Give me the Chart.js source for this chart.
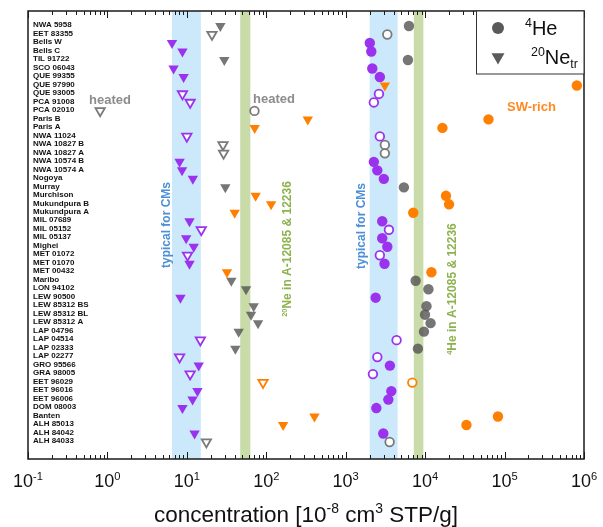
<!DOCTYPE html>
<html><head><meta charset="utf-8">
<script src="https://cdn.jsdelivr.net/npm/chart.js@4/dist/chart.umd.min.js"></script>
<style>html,body{margin:0;padding:0;background:#fff}#wrap{width:603px;height:527px}</style>
</head><body><div id="wrap"><canvas id="c" width="603" height="527"></canvas></div>
<script>
// ---------- data ----------
const samples = ['NWA 5958','EET 83355','Bells W','Bells C','TIL 91722','SCO 06043','QUE 99355','QUE 97990','QUE 93005','PCA 91008','PCA 02010','Paris B','Paris A','NWA 11024','NWA 10827 B','NWA 10827 A','NWA 10574 B','NWA 10574 A','Nogoya','Murray','Murchison','Mukundpura B','Mukundpura A','MIL 07689','MIL 05152','MIL 05137','Mighei','MET 01072','MET 01070','MET 00432','Maribo','LON 94102','LEW 90500','LEW 85312 BS','LEW 85312 BL','LEW 85312 A','LAP 04796','LAP 04514','LAP 02333','LAP 02277','GRO 95566','GRA 98005','EET 96029','EET 96016','EET 96006','DOM 08003','Banten','ALH 85013','ALH 84042','ALH 84033'];
const he4 = [6250,3340,2010,2100,6070,2160,2690,813000,2620,2260,71,62700,16500,2690,3110,3110,2260,2500,3020,5400,18300,20000,7080,2880,3500,2880,3340,2690,3080,12000,7590,11000,2380,10400,9960,11700,9660,4370,8110,2500,3600,2200,6890,3750,3440,2430,82600,33100,2970,3570];
const ne20 = [26.4,20.7,6.5,8.8,29.6,6.8,9.1,3110,8.8,11.0,0.81,333,71.4,10.0,28.5,29.0,8.1,8.7,11.9,30.5,73.5,115,40,10.8,15.2,9.8,12.2,10.2,10.8,32,36.3,55.6,8.3,69.4,64.3,78.8,44.9,14.8,40.8,8.1,14.1,11.0,91,13.6,11.8,8.8,404,163,12.5,17.6];
// sample group: cm = typical CM, heat = heated, sw = solar-wind rich; "-o" = open symbol
const group = ['heat','heat-o','cm','cm','heat','cm','cm','sw','cm-o','cm-o','heat-o','sw','sw','cm-o','heat-o','heat-o','cm','cm','cm','heat','sw','sw','sw','cm','cm-o','cm','cm','cm-o','cm','sw','heat','heat','cm','heat','heat','heat','heat','cm-o','heat','cm-o','cm','cm-o','sw-o','cm','cm','cm','sw','sw','cm','heat-o'];
// reference ranges
const cmNeRange = [6.5, 15];
const refNeRange = [47, 63];
const cmHeRange = [2000, 4500];
const refHeRange = [7200, 9500];
const xExponents = [-1,0,1,2,3,4,5,6];

// ---------- styles ----------
const colors = {cm:'#9a32ee', heat:'rgba(80,80,80,0.78)', sw:'#ff8000'};
const openColors = {cm:'#9a32ee', heat:'#7a7a7a', sw:'#ff8000'};
const FONT = '"Liberation Sans", Arial, Helvetica, sans-serif';

function makeDatasets(vals, isNe) {
  const codes = ['cm','cm-o','heat','heat-o','sw','sw-o'];
  return codes.map(code => {
    const base = code.replace('-o','');
    const open = code.endsWith('-o');
    const idx = group.map((g,i)=>g===code?i:-1).filter(i=>i>=0);
    return {
      label: (isNe?'Ne ':'He ')+code,
      data: idx.map(i=>({x: vals[i], y: i})),
      pointStyle: isNe ? 'triangle' : 'circle',
      pointRotation: isNe ? 180 : 0,
      pointRadius: isNe ? (open?5.4:6) : (open?4.3:5.2),
      pointBackgroundColor: open ? '#ffffff' : colors[base],
      pointBorderColor: open ? openColors[base] : colors[base],
      pointBorderWidth: open ? 1.8 : 0,
      showLine: false,
      clip: false
    };
  });
}

function partsWidth(ctx, parts, size, weight) {
  let w = 0;
  for (const [t, m] of parts) {
    const s = m ? size*0.62 : size;
    ctx.font = `${weight} ${s}px ${FONT}`;
    w += ctx.measureText(t).width;
  }
  return w;
}
function drawParts(ctx, parts, x, y, size, weight) {
  let cx = x;
  for (const [t, m] of parts) {
    const s = m ? size*0.62 : size;
    ctx.font = `${weight} ${s}px ${FONT}`;
    let dy = 0;
    if (m === 'sup') dy = -size*0.38;
    if (m === 'sub') dy = size*0.22;
    ctx.fillText(t, cx, y + dy);
    cx += ctx.measureText(t).width;
  }
}
function drawVertical(ctx, parts, cx, cy, size, weight, color) {
  ctx.save();
  ctx.translate(cx, cy);
  ctx.rotate(-Math.PI/2);
  ctx.fillStyle = color;
  ctx.textBaseline = 'alphabetic';
  ctx.textAlign = 'left';
  const w = partsWidth(ctx, parts, size, weight);
  drawParts(ctx, parts, -w/2, size*0.36, size, weight);
  ctx.restore();
}

const decor = {
  id: 'decor',
  beforeDatasetsDraw(chart) {
    const {ctx, chartArea: a, scales: {x}} = chart;
    ctx.save();
    const band = (r, col) => {
      const x0 = x.getPixelForValue(r[0]), x1 = x.getPixelForValue(r[1]);
      ctx.fillStyle = col;
      ctx.fillRect(x0, a.top, x1-x0, a.bottom-a.top);
    };
    band(cmNeRange, '#cce9fb');
    band(cmHeRange, '#cce9fb');
    band(refNeRange, '#c8dba8');
    band(refHeRange, '#c8dba8');
    const blue = '#4c8fd6', green = '#8db24e';
    drawVertical(ctx, [['typical for CMs','']], 166, 225, 12, 'bold', blue);
    drawVertical(ctx, [['typical for CMs','']], 361, 226, 12, 'bold', blue);
    drawVertical(ctx, [['20','sup'],['Ne in A-12085 & 12236','']], 287, 249, 12, 'bold', green);
    drawVertical(ctx, [['4','sup'],['He in A-12085 & 12236','']], 452, 289, 12, 'bold', green);
    ctx.restore();
  },
  afterDatasetsDraw(chart) {
    const {ctx, chartArea: a, scales: {x}} = chart;
    ctx.save();
    // frame
    ctx.strokeStyle = '#1a1a1a';
    ctx.lineWidth = 1.5;
    ctx.strokeRect(a.left, a.top, a.right-a.left, a.bottom-a.top);
    // ticks (inward, top and bottom)
    ctx.lineWidth = 1;
    ctx.beginPath();
    for (let e = xExponents[0]; e <= xExponents[xExponents.length-1]; e++) {
      for (let m = 1; m <= 9; m++) {
        if (e === xExponents[xExponents.length-1] && m > 1) break;
        const v = m*Math.pow(10, e);
        const px = Math.round(x.getPixelForValue(v)) + 0.5;
        const len = m === 1 ? 7 : 4;
        ctx.moveTo(px, a.bottom); ctx.lineTo(px, a.bottom-len);
        ctx.moveTo(px, a.top); ctx.lineTo(px, a.top+len);
      }
    }
    ctx.stroke();
    // tick labels
    ctx.fillStyle = '#111';
    ctx.textBaseline = 'alphabetic';
    ctx.textAlign = 'left';
    for (const e of xExponents) {
      const px = x.getPixelForValue(Math.pow(10, e));
      const parts = [['10',''],[String(e),'sup']];
      const w = partsWidth(ctx, parts, 18, 'normal');
      drawParts(ctx, parts, px - w/2, 487, 18, 'normal');
    }
    // axis title
    const tparts = [['concentration [10',''],['-8','sup'],[' cm',''],['3','sup'],[' STP/g]','']];
    const tw = partsWidth(ctx, tparts, 22.5, 'normal');
    drawParts(ctx, tparts, (a.left+a.right)/2 - tw/2, 522, 22.5, 'normal');
    // annotations
    ctx.font = `bold 13px ${FONT}`;
    ctx.textBaseline = 'middle';
    ctx.fillStyle = '#8c8c8c';
    ctx.fillText('heated', 89, 100);
    ctx.fillText('heated', 253, 99);
    ctx.fillStyle = '#ff8a24';
    ctx.fillText('SW-rich', 507, 107);
    // legend
    ctx.fillStyle = '#ffffff';
    ctx.fillRect(476, a.top, a.right-476, 63);
    ctx.strokeStyle = '#333';
    ctx.lineWidth = 1;
    ctx.strokeRect(476.5, a.top, a.right-476.5, 63);
    ctx.fillStyle = '#5a5a5a';
    ctx.beginPath(); ctx.arc(498, 28, 6, 0, Math.PI*2); ctx.fill();
    const r = 7.5;
    ctx.beginPath();
    ctx.moveTo(498 - r*0.866, 57 - r*0.5);
    ctx.lineTo(498 + r*0.866, 57 - r*0.5);
    ctx.lineTo(498, 57 + r);
    ctx.closePath(); ctx.fill();
    ctx.fillStyle = '#111';
    ctx.textBaseline = 'alphabetic';
    drawParts(ctx, [['4','sup'],['He','']], 525, 35, 20, 'normal');
    drawParts(ctx, [['20','sup'],['Ne',''],['tr','sub']], 531, 64, 20, 'normal');
    ctx.restore();
  }
};

new Chart(document.getElementById('c'), {
  type: 'scatter',
  data: { datasets: [...makeDatasets(he4, false), ...makeDatasets(ne20, true)] },
  options: {
    responsive: false,
    animation: false,
    devicePixelRatio: 1,
    layout: { padding: { left: 28, right: 19, top: 11, bottom: 68 } },
    plugins: { legend: { display: false }, tooltip: { enabled: false } },
    scales: {
      x: {
        type: 'logarithmic', min: 0.1, max: 1e6,
        grid: { display: false, drawTicks: false },
        border: { display: false },
        ticks: { display: false },
        afterFit: (s) => { s.height = 0; }
      },
      y: {
        type: 'linear', reverse: true, min: -1.77, max: 51.0,
        grid: { display: false, drawTicks: false },
        border: { display: false },
        afterFit: (s) => { s.width = 0; },
        ticks: {
          stepSize: 1, autoSkip: false, mirror: true, padding: 5, labelOffset: -1,
          color: '#111',
          font: { family: FONT, size: 8, weight: 'bold' },
          callback: (v) => (Number.isInteger(v) && samples[v] !== undefined) ? samples[v] : ''
        }
      }
    }
  },
  plugins: [decor]
});
</script></body></html>
